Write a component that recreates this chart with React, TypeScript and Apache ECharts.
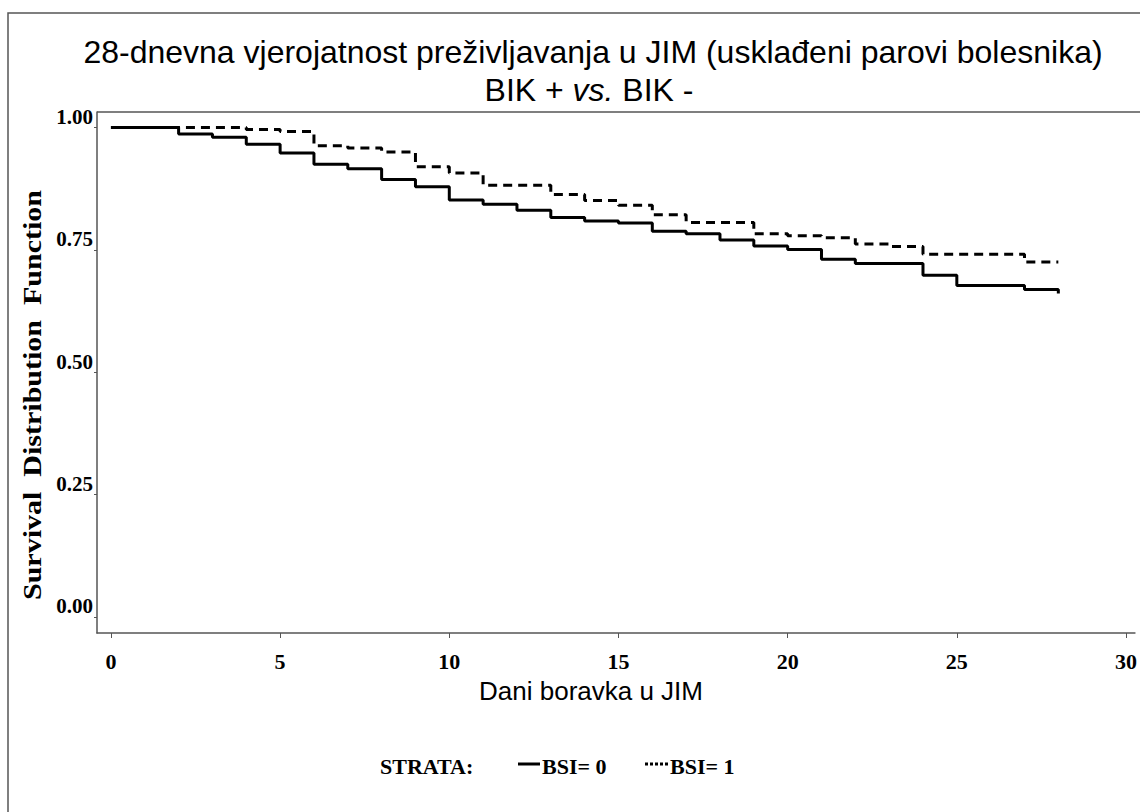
import React, { useEffect, useRef } from "react";
import * as echarts from "echarts";

// Kaplan-Meier step data (day of event, survival after the event)
const bsi0Days = [0, 2, 3, 4, 5, 6, 7, 8, 9, 10, 11, 12, 13, 14, 15, 16, 17, 18, 19, 20, 21, 22, 24, 25, 27, 28];
const bsi0Surv = [1.0, 0.987, 0.98, 0.966, 0.948, 0.925, 0.916, 0.894, 0.879, 0.852, 0.843, 0.831, 0.816, 0.809, 0.805, 0.788, 0.783, 0.77, 0.758, 0.751, 0.731, 0.722, 0.698, 0.677, 0.669, 0.661];

const bsi1Days = [0, 4, 5, 6, 7, 8, 9, 10, 11, 13, 14, 15, 16, 17, 19, 20, 21, 22, 23, 24, 27, 28];
const bsi1Surv = [1.0, 0.996, 0.992, 0.963, 0.958, 0.95, 0.92, 0.907, 0.882, 0.863, 0.851, 0.841, 0.822, 0.806, 0.783, 0.779, 0.775, 0.762, 0.757, 0.741, 0.725, 0.725];

const xTicks = [0, 5, 10, 15, 20, 25, 30];
const yTicks = [0, 0.25, 0.5, 0.75, 1.0];

const titleLine1 = "28-dnevna vjerojatnost preživljavanja u JIM (usklađeni parovi bolesnika)";
const titleLine2 = "BIK + {i|vs.} BIK -";
const xAxisTitle = "Dani boravka u JIM";
const yAxisTitle = "Survival  Distribution  Function";
const legendTitle = "STRATA:";
const legendNames = ["BSI= 0", "BSI= 1"];

const SANS = "'Liberation Sans', Arial, sans-serif";
const SERIF = "'Liberation Serif', 'Times New Roman', serif";

export default function App() {
  const ref = useRef<HTMLDivElement>(null);

  useEffect(() => {
    if (!ref.current) return;
    const chart = echarts.init(ref.current, undefined, { renderer: "svg" });

    const option: any = {
      animation: false,
      backgroundColor: "#ffffff",
      grid: {
        left: 97,
        top: 112,
        right: 0,
        bottom: 179,
        show: false,
      },
      xAxis: {
        type: "value",
        min: -0.412,
        max: 30.264,
        axisLine: { show: true, onZero: false, lineStyle: { color: "#555", width: 1.5 } },
        axisTick: { show: true, customValues: xTicks, length: 5, lineStyle: { color: "#555", width: 1 } },
        axisLabel: {
          customValues: xTicks,
          margin: 17,
          fontFamily: SERIF,
          fontWeight: "bold",
          fontSize: 22,
          color: "#000",
        },
        splitLine: { show: false },
      },
      yAxis: {
        type: "value",
        min: -0.0327,
        max: 1.0317,
        axisLine: { show: true, onZero: false, lineStyle: { color: "#555", width: 1.5 } },
        axisTick: { show: true, customValues: yTicks, length: 3, lineStyle: { color: "#555", width: 1 } },
        axisLabel: {
          customValues: yTicks,
          margin: 4,
          verticalAlign: "bottom",
          fontFamily: SERIF,
          fontWeight: "bold",
          fontSize: 21,
          color: "#000",
          formatter: (v: number) => v.toFixed(2),
        },
        splitLine: { show: false },
      },
      series: [
        {
          name: legendNames[0],
          type: "line",
          step: "end",
          showSymbol: false,
          data: bsi0Days.map((d, i) => [d, bsi0Surv[i]]),
          lineStyle: { color: "#000", width: 3 },
        },
        {
          name: legendNames[1],
          type: "line",
          step: "end",
          showSymbol: false,
          data: bsi1Days.map((d, i) => [d, bsi1Surv[i]]),
          lineStyle: { color: "#000", width: 3, type: [9, 6] },
        },
      ],
      graphic: [
        {
          type: "rect",
          shape: { x: 8, y: 13, width: 1300, height: 1000 },
          style: { fill: "none", stroke: "#555", lineWidth: 1.5 },
          silent: true,
        },
        {
          type: "line",
          shape: { x1: 97, y1: 112, x2: 1160, y2: 112 },
          style: { stroke: "#555", lineWidth: 1.5 },
          silent: true,
        },
        {
          type: "text",
          x: 593,
          y: 52,
          style: {
            text: titleLine1,
            font: `32px ${SANS}`,
            fill: "#000",
            align: "center",
            verticalAlign: "middle",
          },
        },
        {
          type: "text",
          x: 589,
          y: 90,
          style: {
            text: titleLine2,
            font: `32px ${SANS}`,
            fill: "#000",
            align: "center",
            verticalAlign: "middle",
            rich: {
              i: { fontStyle: "italic", fontSize: 32, fontFamily: SANS, fill: "#000" },
            },
          },
        },
        {
          type: "text",
          x: 591,
          y: 691,
          style: {
            text: xAxisTitle,
            font: `26px ${SANS}`,
            fill: "#000",
            align: "center",
            verticalAlign: "middle",
          },
        },
        {
          type: "text",
          x: 32,
          y: 395,
          rotation: Math.PI / 2,
          scaleX: 1.2,
          style: {
            text: yAxisTitle,
            font: `bold 25px ${SERIF}`,
            fill: "#000",
            align: "center",
            verticalAlign: "middle",
          },
        },
        {
          type: "text",
          x: 380,
          y: 766,
          style: {
            text: legendTitle,
            font: `bold 22px ${SERIF}`,
            fill: "#000",
            align: "left",
            verticalAlign: "middle",
          },
        },
        {
          type: "line",
          shape: { x1: 518, y1: 764, x2: 540, y2: 764 },
          style: { stroke: "#000", lineWidth: 3 },
        },
        {
          type: "text",
          x: 542,
          y: 766,
          style: {
            text: legendNames[0],
            font: `bold 22px ${SERIF}`,
            fill: "#000",
            align: "left",
            verticalAlign: "middle",
          },
        },
        {
          type: "line",
          shape: { x1: 645, y1: 764, x2: 668, y2: 764 },
          style: { stroke: "#000", lineWidth: 3, lineDash: [3, 2] },
        },
        {
          type: "text",
          x: 670,
          y: 766,
          style: {
            text: legendNames[1],
            font: `bold 22px ${SERIF}`,
            fill: "#000",
            align: "left",
            verticalAlign: "middle",
          },
        },
      ],
    };

    chart.setOption(option);
    return () => {
      chart.dispose();
    };
  }, []);

  return (
    <div
      ref={ref}
      style={{ position: "fixed", left: 0, top: 0, width: 1140, height: 812 }}
    />
  );
}
